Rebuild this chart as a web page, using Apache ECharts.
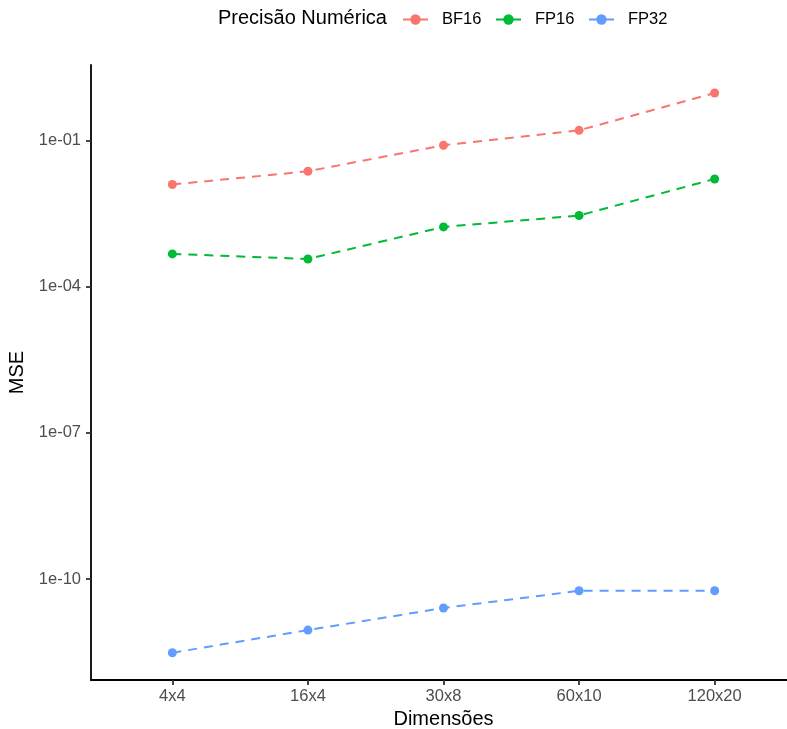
<!DOCTYPE html>
<html>
<head>
<meta charset="utf-8">
<script src="https://cdn.jsdelivr.net/npm/echarts@6/dist/echarts.min.js"></script>
<style>html,body{margin:0;padding:0;background:#fff}#c{width:787px;height:729px}</style>
</head>
<body>
<div id="c"></div>
<script>
var categories = ['4x4', '16x4', '30x8', '60x10', '120x20'];
var bf16 = [0.0124, 0.0231, 0.079, 0.160, 0.933];
var fp16 = [4.67e-4, 3.68e-4, 1.67e-3, 2.86e-3, 0.0161];
var fp32 = [3.08e-12, 9.0e-12, 2.55e-11, 5.75e-11, 5.75e-11];
var yTicks = [1e-10, 1e-7, 1e-4, 1e-1];
var seriesNames = ['BF16', 'FP16', 'FP32'];
var colors = ['#F8766D', '#00BA38', '#619CFF'];
var values = [bf16, fp16, fp32];

var FONT = 'Liberation Sans';
function pts(arr) { return arr.map(function (v, i) { return [i, v]; }); }
function fmtExp(v) {
  var e = Math.round(Math.log10(v));
  var s = Math.abs(e);
  return '1e' + (e < 0 ? '-' : '+') + (s < 10 ? '0' + s : '' + s);
}

var legendLefts = [402, 495, 588];
var chart = echarts.init(document.getElementById('c'), null, { renderer: 'canvas' });
chart.setOption({
  backgroundColor: '#ffffff',
  animation: false,
  title: {
    text: 'Precisão Numérica',
    left: 218, top: 8, padding: 0,
    textStyle: { fontFamily: FONT, fontSize: 20, fontWeight: 'normal', color: '#000' }
  },
  legend: seriesNames.map(function (n, k) {
    return {
      data: [n],
      left: legendLefts[k], top: 11, padding: 0,
      itemWidth: 25, itemHeight: 13, itemGap: 14,
      textStyle: { fontFamily: FONT, fontSize: 16.5, color: '#000', padding: [0, 0, 0, 9] }
    };
  }),
  grid: { left: 91, right: -9, top: 65, bottom: 49, containLabel: false, outerBoundsMode: 'none' },
  xAxis: {
    type: 'value', min: -0.6, max: 4.6,
    name: 'Dimensões', nameLocation: 'middle', nameGap: 27,
    nameTextStyle: { fontFamily: FONT, fontSize: 20, color: '#000' },
    axisLine: { show: true, onZero: false, lineStyle: { color: '#000', width: 1.8 } },
    axisTick: { show: true, length: 5, customValues: [0, 1, 2, 3, 4], lineStyle: { color: '#333', width: 1.8 } },
    axisLabel: {
      customValues: [0, 1, 2, 3, 4], margin: 8,
      fontFamily: FONT, fontSize: 16.5, color: '#4d4d4d',
      formatter: function (v) { return categories[Math.round(v)]; }
    },
    splitLine: { show: false }
  },
  yAxis: {
    type: 'log', logBase: 10,
    min: Math.pow(10, -12.07), max: Math.pow(10, 0.544),
    name: 'MSE', nameLocation: 'middle', nameGap: 59, nameRotate: 90,
    nameTextStyle: { fontFamily: FONT, fontSize: 20, color: '#000' },
    axisLine: { show: true, onZero: false, lineStyle: { color: '#000', width: 1.8 } },
    axisTick: { show: true, length: 5, customValues: yTicks, lineStyle: { color: '#333', width: 1.8 } },
    axisLabel: {
      customValues: yTicks, margin: 10,
      fontFamily: FONT, fontSize: 16.5, color: '#4d4d4d',
      formatter: function (v) { return fmtExp(v); }
    },
    splitLine: { show: false }
  },
  series: seriesNames.map(function (n, k) {
    return {
      name: n, type: 'line',
      data: pts(values[k]),
      symbol: 'circle', symbolSize: 9,
      itemStyle: { color: colors[k] },
      lineStyle: { color: colors[k], width: 2, type: [9, 7] },
      emphasis: { disabled: true }
    };
  })
});
</script>
</body>
</html>
